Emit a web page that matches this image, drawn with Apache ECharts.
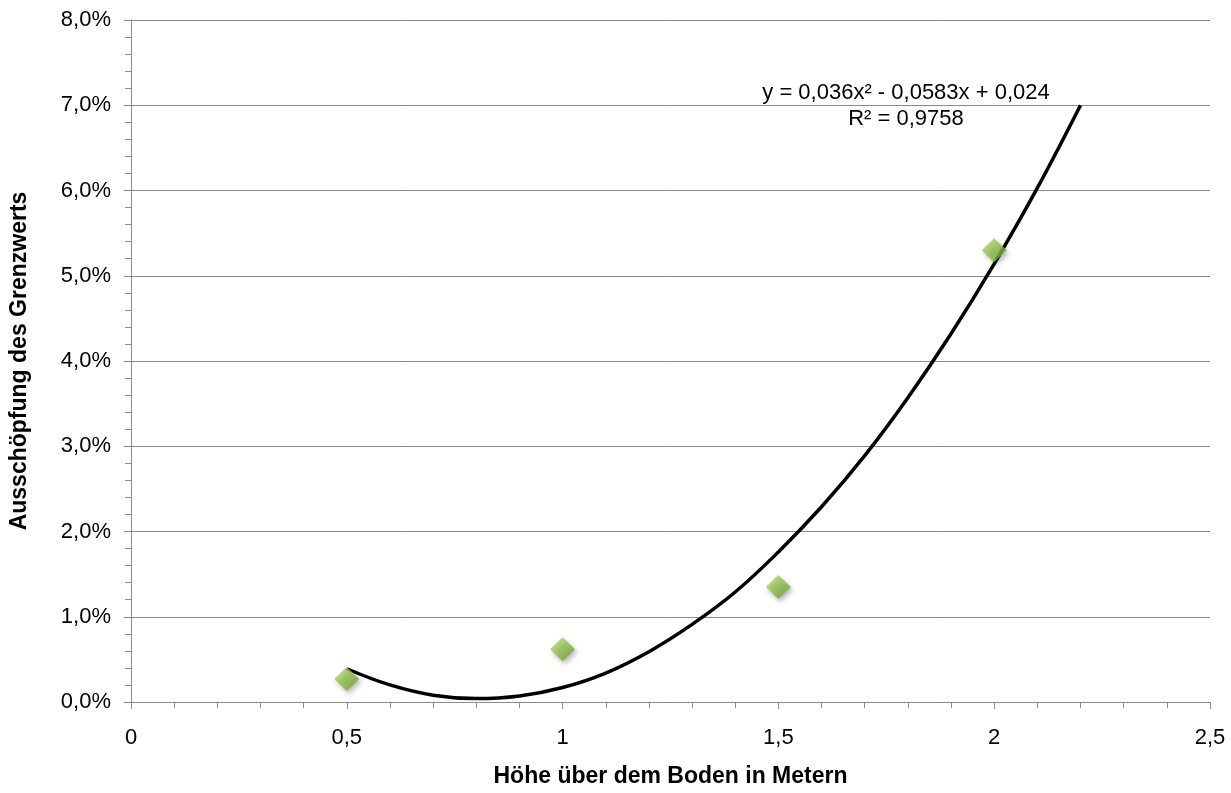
<!DOCTYPE html>
<html>
<head>
<meta charset="utf-8">
<script src="https://cdn.jsdelivr.net/npm/echarts@6/dist/echarts.min.js"></script>
<style>
  html, body { margin: 0; padding: 0; background: #fff; }
  #chart { width: 1231px; height: 793px; }
</style>
</head>
<body>
<div id="chart"></div>
<script>
// Messpunkte (Höhe in m, Ausschöpfung in %)
const heights = [0.5, 1, 1.5, 2];
const exhaustion = [0.27, 0.62, 1.35, 5.3];

// Trendlinie
const trendX = [0.5, 0.6, 0.7, 0.8, 0.9, 1.0, 1.1, 1.2, 1.3, 1.4, 1.5, 1.6, 1.7, 1.8, 1.9, 2.0, 2.1, 2.2];
const trendY = [0.39, 0.2, 0.08, 0.04, 0.07, 0.17, 0.34, 0.59, 0.91, 1.29, 1.76, 2.29, 2.89, 3.57, 4.32, 5.14, 6.03, 7.0];

const equationLines = ["y = 0,036x² - 0,0583x + 0,024", "R² = 0,9758"];

const chart = echarts.init(document.getElementById("chart"));

const font = "'Liberation Sans', Arial, sans-serif";
const axisGray = "#8a8a8a";

chart.setOption({
  backgroundColor: "#fff",
  animation: false,
  textStyle: { fontFamily: font },
  grid: { left: 131, right: 21, top: 20, bottom: 88 },
  xAxis: {
    type: "value",
    min: 0,
    max: 2.5,
    interval: 0.5,
    name: "Höhe über dem Boden in Metern",
    nameLocation: "middle",
    nameGap: 63,
    nameTextStyle: { fontFamily: font, fontSize: 23, fontWeight: "bold", color: "#000" },
    axisLine: { show: true, onZero: false, lineStyle: { color: axisGray, width: 1 } },
    axisTick: { show: true, length: 7, lineStyle: { color: axisGray } },
    minorTick: { show: true, splitNumber: 5, length: 6, lineStyle: { color: axisGray } },
    splitLine: { show: false },
    axisLabel: {
      fontFamily: font, fontSize: 22, color: "#000", margin: 25,
      formatter: (v) => String(v).replace(".", ",")
    }
  },
  yAxis: {
    type: "value",
    min: 0,
    max: 8,
    interval: 1,
    name: "Ausschöpfung des Grenzwerts",
    nameLocation: "middle",
    nameGap: 100,
    nameTextStyle: { fontFamily: font, fontSize: 23, fontWeight: "bold", color: "#000" },
    axisLine: { show: true, lineStyle: { color: axisGray, width: 1 } },
    axisTick: { show: true, length: 7, lineStyle: { color: axisGray } },
    minorTick: { show: true, splitNumber: 5, length: 6, lineStyle: { color: axisGray } },
    splitLine: { show: true, lineStyle: { color: axisGray, width: 1 } },
    axisLabel: {
      fontFamily: font, fontSize: 22, color: "#000", margin: 20,
      formatter: (v) => v.toFixed(1).replace(".", ",") + "%"
    }
  },
  series: [
    {
      name: "Trend",
      type: "line",
      data: trendX.map((x, i) => [x, trendY[i]]),
      smooth: 0.4,
      showSymbol: false,
      lineStyle: { color: "#000", width: 3.5 },
      z: 3
    },
    {
      name: "Messwerte",
      type: "scatter",
      data: heights.map((x, i) => [x, exhaustion[i]]),
      symbol: "diamond",
      symbolSize: [25, 24],
      itemStyle: {
        color: new echarts.graphic.LinearGradient(0, 0, 1, 1, [
          { offset: 0, color: "#b4da78" },
          { offset: 0.5, color: "#8fbf4a" },
          { offset: 1, color: "#6a962c" }
        ]),
        shadowColor: "rgba(0,0,0,0.35)",
        shadowBlur: 5,
        shadowOffsetX: 2,
        shadowOffsetY: 3
      },
      z: 4
    }
  ],
  graphic: [
    {
      type: "text",
      x: 906,
      y: 82,
      style: { text: equationLines[0], font: "22px " + font, fill: "#000", align: "center", verticalAlign: "top" }
    },
    {
      type: "text",
      x: 906,
      y: 108,
      style: { text: equationLines[1], font: "22px " + font, fill: "#000", align: "center", verticalAlign: "top" }
    }
  ]
});
</script>
</body>
</html>
